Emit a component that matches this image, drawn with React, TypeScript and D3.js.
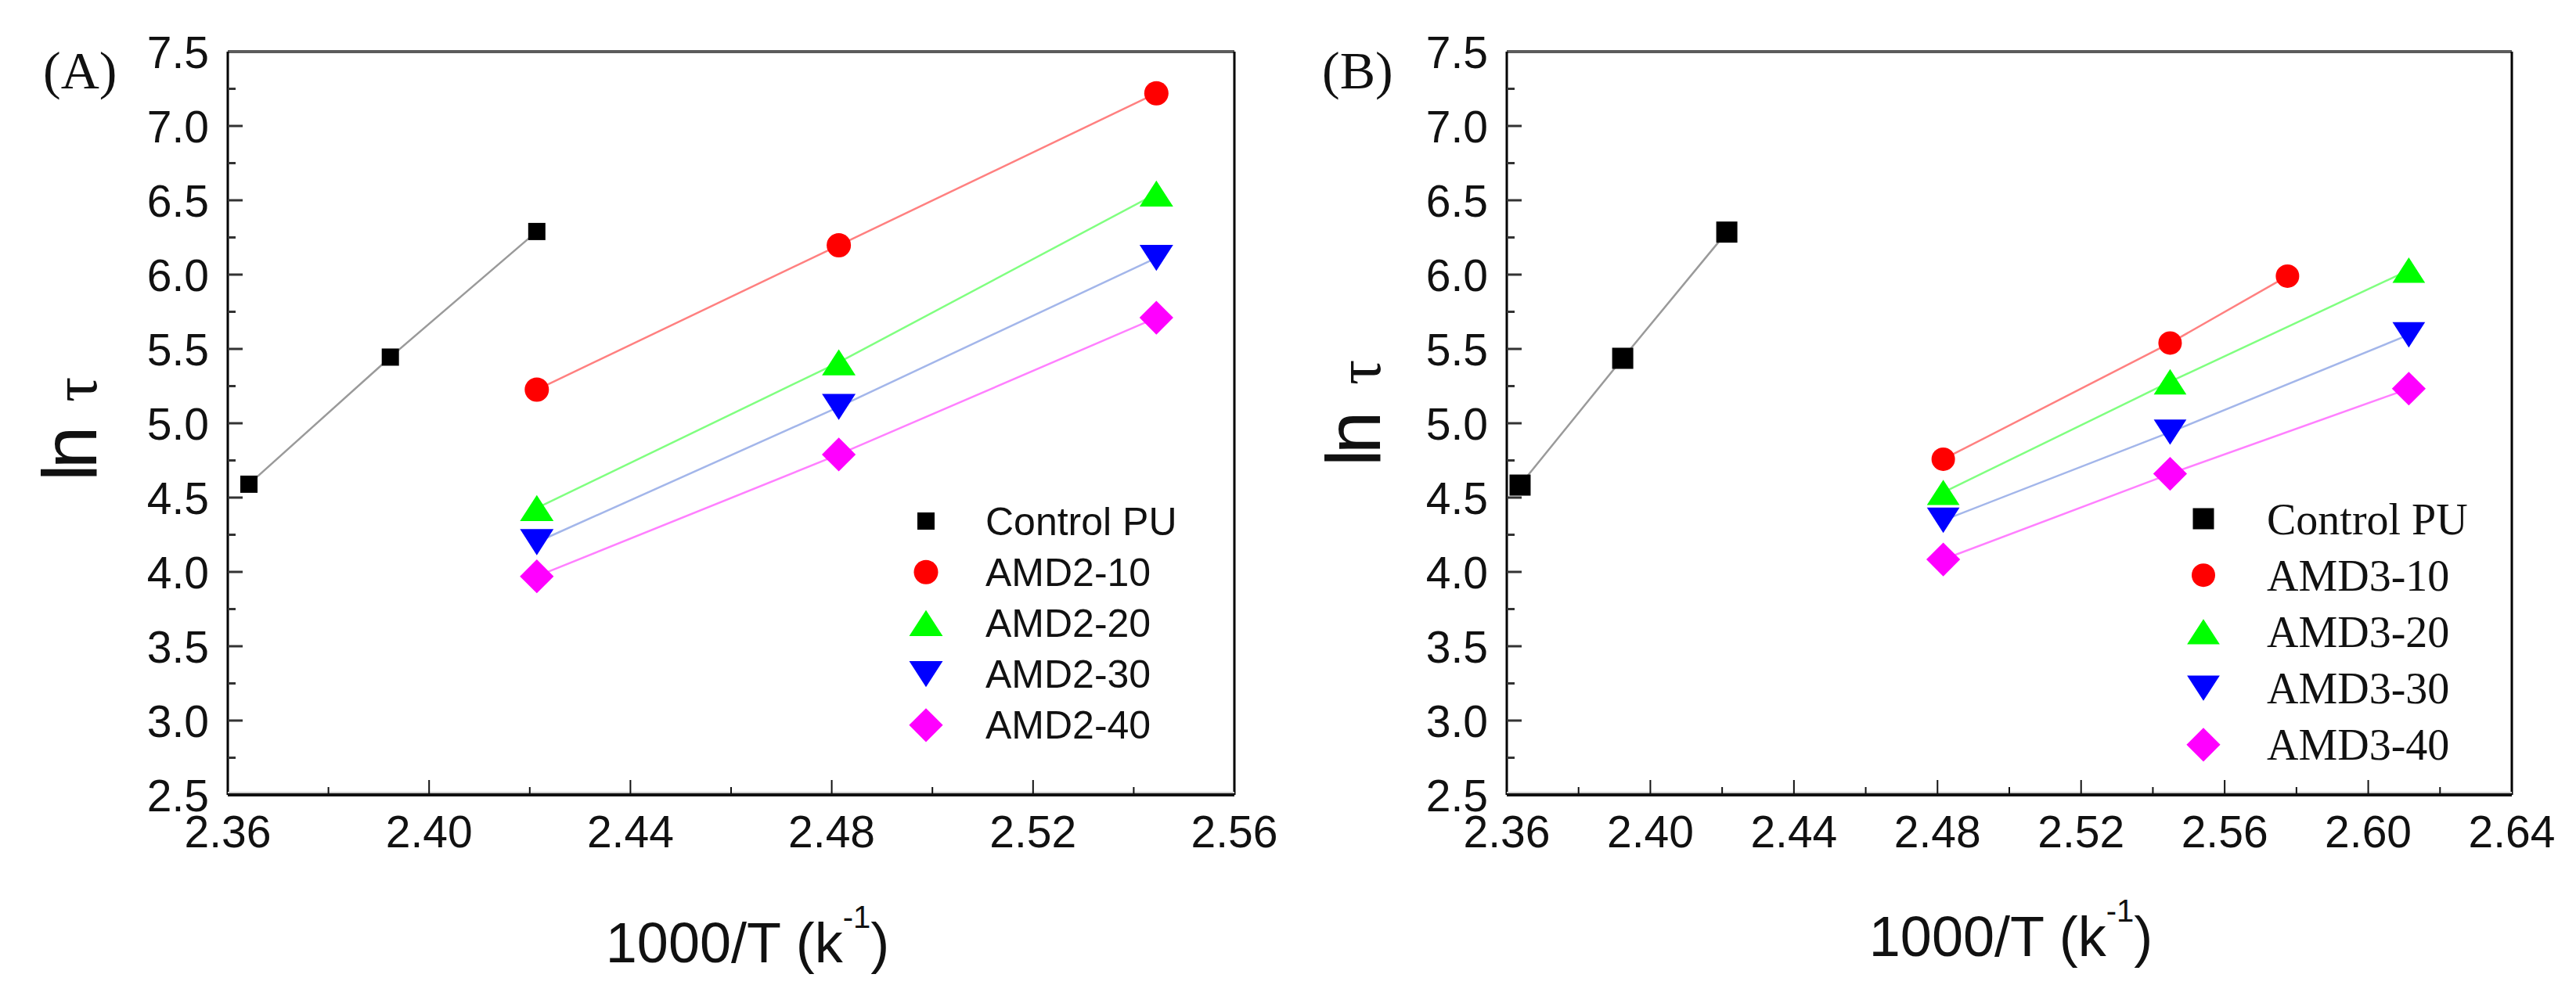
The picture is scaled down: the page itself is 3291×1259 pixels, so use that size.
import React from "react";
import * as d3 from "d3";

// ---------- data ----------
const xControl = [2.3642, 2.3923, 2.4214];
const yControlA = [4.59, 5.445, 6.29];
const xAmd2 = [2.4214, 2.4814, 2.5445];
const yAmd2_10 = [5.226, 6.197, 7.22];
const yAmd2_20 = [4.43, 5.41, 6.545];
const yAmd2_30 = [4.2, 5.11, 6.113];
const yAmd2_40 = [3.97, 4.79, 5.71];

const xControlB = [2.3637, 2.3923, 2.4213];
const yControlB = [4.584, 5.437, 6.286];
const xAmd3_10 = [2.4816, 2.5448, 2.5775];
const xAmd3 = [2.4816, 2.5448, 2.6113];
const yAmd3_10 = [4.758, 5.54, 5.99];
const yAmd3_20 = [4.535, 5.279, 6.03];
const yAmd3_30 = [4.347, 4.94, 5.595];
const yAmd3_40 = [4.084, 4.66, 5.233];

const namesA = ["Control PU", "AMD2-10", "AMD2-20", "AMD2-30", "AMD2-40"];
const namesB = ["Control PU", "AMD3-10", "AMD3-20", "AMD3-30", "AMD3-40"];

const xTicksA = [2.36, 2.4, 2.44, 2.48, 2.52, 2.56];
const xTicksB = [2.36, 2.4, 2.44, 2.48, 2.52, 2.56, 2.6, 2.64];
const yTicks = [2.5, 3.0, 3.5, 4.0, 4.5, 5.0, 5.5, 6.0, 6.5, 7.0, 7.5];

// ---------- styles ----------
const shapes = ["square", "circle", "triUp", "triDown", "diamond"];
const fills = ["#000000", "#ff0000", "#00ff00", "#0000ff", "#ff00ff"];
const lineColors = ["#9a9a9a", "#ff8080", "#80ff80", "#a3b6ea", "#ff80ff"];

const SANS = "'Liberation Sans', Arial, sans-serif";
const SERIF = "'Liberation Serif', 'Times New Roman', serif";

function markerPath(shape: string, s: number): string {
  const h = s / 2;
  switch (shape) {
    case "square":
      return `M${-h},${-h}H${h}V${h}H${-h}Z`;
    case "triUp": {
      const w = s * 0.58, t = s * 0.45;
      return `M0,${-t}L${w},${t}L${-w},${t}Z`;
    }
    case "triDown": {
      const w = s * 0.58, t = s * 0.45;
      return `M0,${t}L${w},${-t}L${-w},${-t}Z`;
    }
    case "diamond": {
      const r = s * 0.6;
      return `M0,${-r}L${r},0L0,${r}L${-r},0Z`;
    }
    default:
      return "";
  }
}

function Marker({ shape, x, y, size, fill }: any) {
  if (shape === "circle") return <circle cx={x} cy={y} r={size / 2} fill={fill} />;
  return <path d={markerPath(shape, size)} transform={`translate(${x},${y})`} fill={fill} />;
}

type Series = { xs: number[]; ys: number[] };

function Panel({
  x0, x1, xDomain, xTicks, series, names, label, legendX, legendTextX, legendY0, legendDy,
  legendFont, legendSize, sizes, titleCx, titleBase, yTitleBase, lnStart, tauStart,
}: any) {
  const top = 66, bottom = 1016;
  const x = d3.scaleLinear().domain(xDomain).range([x0, x1]);
  const y = d3.scaleLinear().domain([2.5, 7.5]).range([bottom, top]);
  const line = d3.line<[number, number]>().x((d) => x(d[0])).y((d) => y(d[1]));
  const fx = d3.format(".2f");
  const fy = d3.format(".1f");
  const minorX: number[] = [];
  for (let i = 0; i < xTicks.length - 1; i++) minorX.push((xTicks[i] + xTicks[i + 1]) / 2);
  const minorY: number[] = [];
  for (let i = 0; i < yTicks.length - 1; i++) minorY.push((yTicks[i] + yTicks[i + 1]) / 2);

  return (
    <g>
      {/* frame */}
      <line x1={x0} x2={x1} y1={top} y2={top} stroke="#5c5c5c" strokeWidth={4} />
      <line x1={x0} x2={x0} y1={top} y2={bottom} stroke="#000" strokeWidth={3} />
      <line x1={x1} x2={x1} y1={top} y2={bottom} stroke="#000" strokeWidth={3} />
      <line x1={x0} x2={x1} y1={bottom} y2={bottom} stroke="#111" strokeWidth={4} />
      <line x1={x0} x2={x1} y1={bottom - 3} y2={bottom - 3} stroke="#cfcfcf" strokeWidth={2} />

      {/* y ticks */}
      {yTicks.map((t) => (
        <g key={"yt" + t}>
          {t !== 7.5 && t !== 2.5 && (
            <line x1={x0} x2={x0 + 19} y1={y(t)} y2={y(t)} stroke="#333" strokeWidth={3} />
          )}
          <text x={x0 - 24} y={y(t)} dy="0.36em" textAnchor="end" fontFamily={SANS} fontSize={57} fill="#111">
            {fy(t)}
          </text>
        </g>
      ))}
      {minorY.map((t) => (
        <line key={"ym" + t} x1={x0} x2={x0 + 10} y1={y(t)} y2={y(t)} stroke="#333" strokeWidth={3} />
      ))}

      {/* x ticks */}
      {xTicks.map((t: number) => (
        <g key={"xt" + t}>
          {t !== xDomain[0] && t !== xDomain[1] && (
            <line x1={x(t)} x2={x(t)} y1={bottom} y2={bottom - 19} stroke="#111" strokeWidth={2} />
          )}
          <text x={x(t)} y={1083} textAnchor="middle" fontFamily={SANS} fontSize={57} fill="#111">
            {fx(t)}
          </text>
        </g>
      ))}
      {minorX.map((t) => (
        <line key={"xm" + t} x1={x(t)} x2={x(t)} y1={bottom} y2={bottom - 10} stroke="#111" strokeWidth={2} />
      ))}

      {/* lines */}
      {series.map((s: Series, i: number) => (
        <path
          key={"l" + i}
          d={line(s.xs.map((v, k) => [v, s.ys[k]] as [number, number])) || ""}
          fill="none"
          stroke={lineColors[i]}
          strokeWidth={2.5}
        />
      ))}
      {/* markers */}
      {series.map((s: Series, i: number) =>
        s.xs.map((v, k) => (
          <Marker key={"m" + i + "-" + k} shape={shapes[i]} x={x(v)} y={y(s.ys[k])} size={sizes[i]} fill={fills[i]} />
        ))
      )}

      {/* legend */}
      {names.map((n: string, i: number) => (
        <g key={"lg" + i}>
          <Marker shape={shapes[i]} x={legendX} y={legendY0 + i * legendDy} size={sizes[i]} fill={fills[i]} />
          <text x={legendTextX} y={legendY0 + i * legendDy} dy="0.35em" fontFamily={legendFont} fontSize={legendSize} fill="#111">
            {n}
          </text>
        </g>
      ))}

      {/* panel label */}
      <text x={x0 - 236} y={113} fontFamily={SERIF} fontSize={68} fill="#111">
        {label}
      </text>

      {/* axis titles */}
      <text x={titleCx} y={titleBase} textAnchor="middle" fontFamily={SANS} fontSize={72} fill="#111">
        1000/T (k
        <tspan fontSize={40} dy={-44}>-1</tspan>
        <tspan dy={44}>)</tspan>
      </text>
      <text
        transform={`translate(${yTitleBase},${lnStart}) rotate(-90)`}
        fontFamily={SANS}
        fontSize={98}
        letterSpacing={-6}
        fill="#111"
      >
        ln
      </text>
      <text
        transform={`translate(${yTitleBase},${tauStart}) rotate(-90)`}
        fontFamily={SERIF}
        fontSize={80}
        fill="#111"
      >
        τ
      </text>
    </g>
  );
}

export default function App() {
  const seriesA: Series[] = [
    { xs: xControl, ys: yControlA },
    { xs: xAmd2, ys: yAmd2_10 },
    { xs: xAmd2, ys: yAmd2_20 },
    { xs: xAmd2, ys: yAmd2_30 },
    { xs: xAmd2, ys: yAmd2_40 },
  ];
  const seriesB: Series[] = [
    { xs: xControlB, ys: yControlB },
    { xs: xAmd3_10, ys: yAmd3_10 },
    { xs: xAmd3, ys: yAmd3_20 },
    { xs: xAmd3, ys: yAmd3_30 },
    { xs: xAmd3, ys: yAmd3_40 },
  ];
  return (
    <svg
      width={3291}
      height={1259}
      viewBox="0 0 3291 1259"
      style={{ position: "absolute", left: 0, top: 0, background: "#fff" }}
    >
      <rect width={3291} height={1259} fill="#fff" />
      <Panel
        x0={291} x1={1577} xDomain={[2.36, 2.56]} xTicks={xTicksA}
        series={seriesA} names={namesA} label="(A)"
        legendX={1183} legendTextX={1259} legendY0={666} legendDy={65.2}
        legendFont={SANS} legendSize={50}
        sizes={[22, 31, 37, 37, 36]}
        titleCx={955} titleBase={1230} yTitleBase={123} lnStart={615} tauStart={514}
      />
      <Panel
        x0={1925} x1={3209} xDomain={[2.36, 2.64]} xTicks={xTicksB}
        series={seriesB} names={namesB} label="(B)"
        legendX={2815} legendTextX={2896} legendY0={663} legendDy={72.2}
        legendFont={SERIF} legendSize={56}
        sizes={[27, 30, 36, 36, 36]}
        titleCx={2569} titleBase={1222} yTitleBase={1763} lnStart={596} tauStart={492}
      />
    </svg>
  );
}
